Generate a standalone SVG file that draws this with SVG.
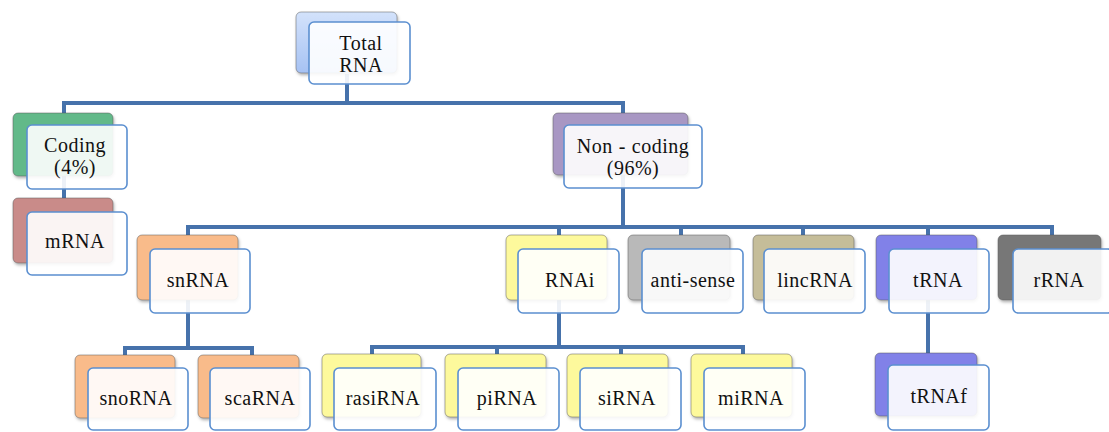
<svg xmlns="http://www.w3.org/2000/svg" width="1109" height="432" viewBox="0 0 1109 432">
<style>
.bk{stroke:#555;stroke-width:0.8;stroke-opacity:0.6;filter:url(#sh)}
.fr{fill:#ffffff;fill-opacity:0.9;stroke:#5b8fd0;stroke-width:1.6}
.t{font-family:"Liberation Serif",serif;font-size:20px;letter-spacing:0.5px;fill:#111;text-anchor:middle}
.c{fill:none;stroke:#4672ab;stroke-width:4;stroke-linejoin:miter}
</style>
<defs>
<filter id="sh" x="-10%" y="-10%" width="130%" height="130%">
<feDropShadow dx="1" dy="2" stdDeviation="1.5" flood-color="#000" flood-opacity="0.3"/>
</filter>
<linearGradient id="gb" x1="0" y1="0" x2="0" y2="1"><stop offset="0" stop-color="#d3e2fb"/><stop offset="1" stop-color="#a6c2f3"/></linearGradient>
</defs>
<g id="connectors">
<path class="c" d="M347,74 V103 M64,113 V103 H623 V113"/>
<path class="c" d="M64,176 V198"/>
<path class="c" d="M623,175 V227 M188,235 V227 H1052 V235 M559,227 V235 M681,227 V235 M803,227 V235 M928,227 V235"/>
<path class="c" d="M188,300 V348 M125,355 V348 H252 V355"/>
<path class="c" d="M559,300 V347 M372,354 V347 H743 V354 M497,347 V354 M621,347 V354"/>
<path class="c" d="M928,300 V353"/>
</g>
<g id="total-rna">
<rect class="bk" x="296" y="12" width="101" height="61" rx="5" fill="url(#gb)"/>
<rect class="fr" x="309" y="22" width="101" height="62" rx="5"/>
<text class="t" x="361" y="50">Total</text>
<text class="t" x="361" y="72">RNA</text>
</g>
<g id="coding">
<rect class="bk" x="13" y="113" width="100" height="63" rx="5" fill="#62b989"/>
<rect class="fr" x="27" y="125" width="100" height="64" rx="5"/>
<text class="t" x="75" y="152">Coding</text>
<text class="t" x="75" y="174">(4%)</text>
</g>
<g id="mrna">
<rect class="bk" x="13" y="198" width="100" height="65" rx="5" fill="#c98b89"/>
<rect class="fr" x="27" y="212" width="100" height="63" rx="5"/>
<text class="t" x="75" y="248">mRNA</text>
</g>
<g id="non-coding">
<rect class="bk" x="553" y="113" width="135" height="62" rx="5" fill="#a897c3"/>
<rect class="fr" x="564" y="125" width="138" height="63" rx="5"/>
<text class="t" x="633" y="153">Non<tspan dx="6">-</tspan><tspan dx="6">coding</tspan></text>
<text class="t" x="633" y="175">(96%)</text>
</g>
<g id="snrna">
<rect class="bk" x="137" y="235" width="101" height="65" rx="5" fill="#f9bb8a"/>
<rect class="fr" x="150" y="249" width="100" height="64" rx="5"/>
<text class="t" x="198" y="287">snRNA</text>
</g>
<g id="rnai">
<rect class="bk" x="506" y="235" width="101" height="65" rx="5" fill="#fdf99c"/>
<rect class="fr" x="518" y="249" width="101" height="64" rx="5"/>
<text class="t" x="570" y="287">RNAi</text>
</g>
<g id="anti-sense">
<rect class="bk" x="628" y="235" width="102" height="65" rx="5" fill="#b9b9b9"/>
<rect class="fr" x="642" y="249" width="101" height="64" rx="5"/>
<text class="t" x="693" y="287">anti-sense</text>
</g>
<g id="lincrna">
<rect class="bk" x="753" y="235" width="101" height="65" rx="5" fill="#c5bd99"/>
<rect class="fr" x="764" y="249" width="101" height="64" rx="5"/>
<text class="t" x="815" y="287">lincRNA</text>
</g>
<g id="trna">
<rect class="bk" x="876" y="235" width="101" height="65" rx="5" fill="#8181e8"/>
<rect class="fr" x="889" y="249" width="100" height="64" rx="5"/>
<text class="t" x="938" y="287">tRNA</text>
</g>
<g id="rrna">
<rect class="bk" x="998" y="235" width="103" height="65" rx="5" fill="#777777"/>
<rect class="fr" x="1013" y="249" width="100" height="64" rx="5"/>
<text class="t" x="1059" y="287">rRNA</text>
</g>
<g id="snorna">
<rect class="bk" x="75" y="355" width="100" height="63" rx="5" fill="#f9bb8a"/>
<rect class="fr" x="88" y="368" width="100" height="62" rx="5"/>
<text class="t" x="136" y="405">snoRNA</text>
</g>
<g id="scarna">
<rect class="bk" x="198" y="355" width="101" height="63" rx="5" fill="#f9bb8a"/>
<rect class="fr" x="210" y="368" width="100" height="62" rx="5"/>
<text class="t" x="260" y="405">scaRNA</text>
</g>
<g id="rasirna">
<rect class="bk" x="322" y="354" width="99" height="63" rx="5" fill="#fdf99c"/>
<rect class="fr" x="334" y="368" width="102" height="62" rx="5"/>
<text class="t" x="383" y="405">rasiRNA</text>
</g>
<g id="pirna">
<rect class="bk" x="445" y="354" width="101" height="63" rx="5" fill="#fdf99c"/>
<rect class="fr" x="458" y="368" width="101" height="62" rx="5"/>
<text class="t" x="507" y="405">piRNA</text>
</g>
<g id="sirna">
<rect class="bk" x="567" y="354" width="101" height="63" rx="5" fill="#fdf99c"/>
<rect class="fr" x="580" y="368" width="101" height="62" rx="5"/>
<text class="t" x="627" y="405">siRNA</text>
</g>
<g id="mirna">
<rect class="bk" x="691" y="354" width="101" height="63" rx="5" fill="#fdf99c"/>
<rect class="fr" x="704" y="368" width="101" height="62" rx="5"/>
<text class="t" x="751" y="405">miRNA</text>
</g>
<g id="trnaf">
<rect class="bk" x="875" y="353" width="102" height="63" rx="5" fill="#8181e8"/>
<rect class="fr" x="888" y="365" width="101" height="65" rx="5"/>
<text class="t" x="939" y="403">tRNAf</text>
</g>
</svg>
